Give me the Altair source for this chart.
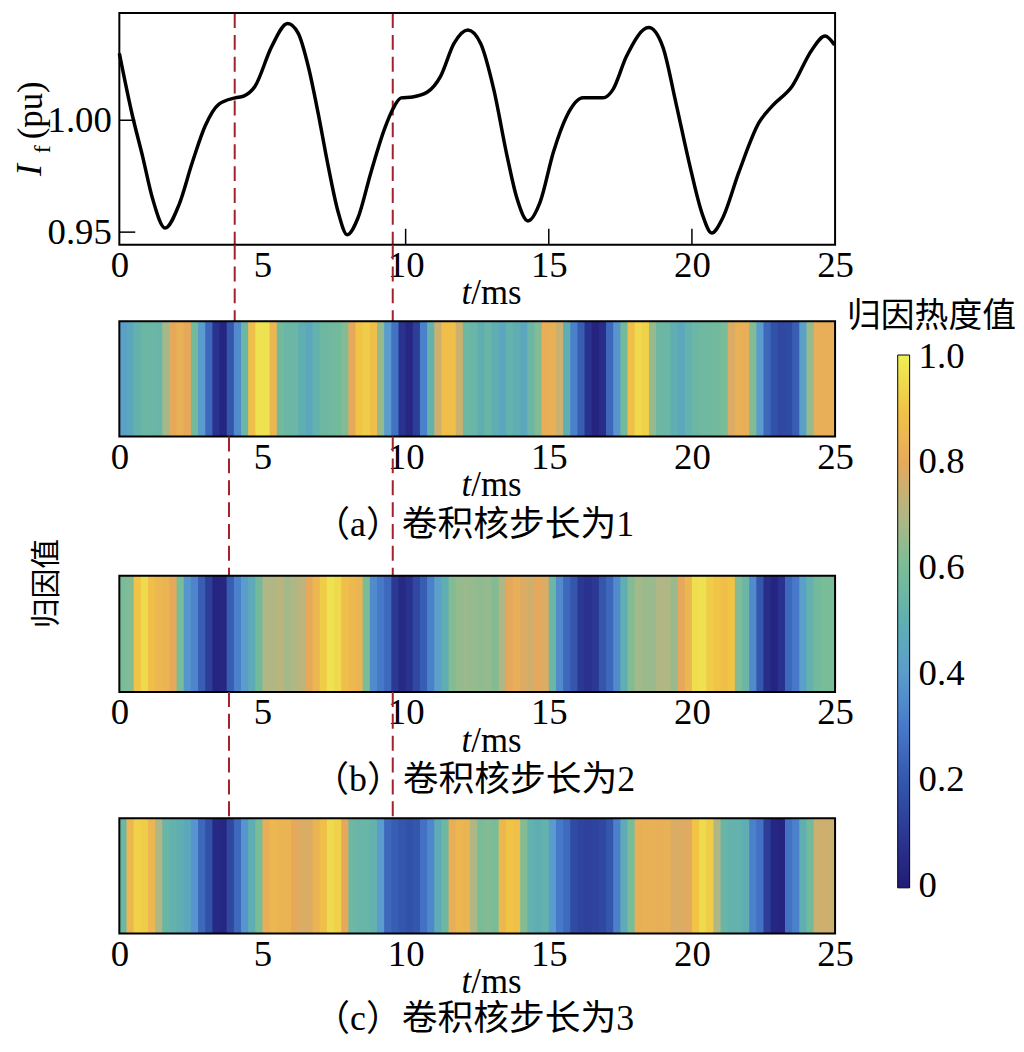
import altair as alt
import pandas as pd

# ---------------- data ----------------
T_LINE = [0.0, 0.46, 0.81, 1.16, 1.60, 2.08, 2.55, 3.00, 3.47, 4.05, 4.34, 4.74, 5.32, 5.88,
          6.25, 6.60, 6.94, 7.29, 7.64, 7.96, 8.33, 8.79, 9.26, 9.55, 9.84, 10.24, 10.76,
          11.22, 11.69, 12.17, 12.62, 13.08, 13.54, 13.89, 14.27, 14.70, 15.16, 15.63, 16.20,
          16.90, 17.24, 17.71, 18.49, 18.98, 19.44, 19.90, 20.37, 20.69, 21.07, 21.64, 22.34,
          22.80, 23.50, 24.19, 24.65, 24.98]
IF_LINE = [1.0299, 1.0019, 0.984, 0.965, 0.9518, 0.9621, 0.9812, 0.9975, 1.0071, 1.0100, 1.0108,
           1.0152, 1.0329, 1.0432, 1.0388, 1.024, 1.0034, 0.9798, 0.9591, 0.9488, 0.9562, 0.9768,
           0.996, 1.0049, 1.010, 1.0104, 1.0126, 1.0196, 1.0343, 1.0403, 1.0343, 1.0137, 0.9842,
           0.965, 0.955, 0.9635, 0.9857, 1.0019, 1.010, 1.010, 1.0137, 1.0285, 1.0414, 1.0329,
           1.0078, 0.9812, 0.9577, 0.9496, 0.9562, 0.9768, 0.9989, 1.0063, 1.0152, 1.0314,
           1.0376, 1.0336]

CELL = 0.25
HEAT_T = [i * CELL for i in range(100)]

HEAT_A = [0.42, 0.46, 0.52, 0.55, 0.55, 0.54, 0.68, 0.80, 0.83, 0.80, 0.58, 0.40,
          0.25, 0.08, 0.03, 0.20, 0.35, 0.55, 0.88, 0.97, 0.97, 0.85, 0.58, 0.55,
          0.55, 0.50, 0.46, 0.52, 0.56, 0.57, 0.58, 0.62, 0.80, 0.90, 0.92, 0.88,
          0.65, 0.40, 0.28, 0.08, 0.04, 0.12, 0.32, 0.52, 0.75, 0.88, 0.88, 0.75,
          0.56, 0.54, 0.50, 0.54, 0.50, 0.45, 0.52, 0.50, 0.46, 0.55, 0.62, 0.82,
          0.83, 0.75, 0.50, 0.32, 0.22, 0.08, 0.03, 0.06, 0.25, 0.38, 0.58, 0.88,
          0.95, 0.93, 0.65, 0.56, 0.55, 0.50, 0.46, 0.52, 0.55, 0.57, 0.57, 0.58,
          0.60, 0.78, 0.83, 0.82, 0.62, 0.40, 0.25, 0.18, 0.15, 0.16, 0.22, 0.42,
          0.65, 0.82, 0.82, 0.82]
HEAT_B = [0.60, 0.62, 0.90, 0.95, 0.88, 0.85, 0.84, 0.80, 0.60, 0.38, 0.33, 0.22,
          0.12, 0.03, 0.04, 0.22, 0.32, 0.40, 0.48, 0.58, 0.70, 0.70, 0.72, 0.68,
          0.70, 0.72, 0.80, 0.85, 0.92, 0.97, 0.95, 0.88, 0.86, 0.84, 0.60, 0.35,
          0.30, 0.25, 0.10, 0.05, 0.08, 0.15, 0.22, 0.32, 0.42, 0.50, 0.62, 0.65,
          0.66, 0.65, 0.64, 0.65, 0.62, 0.70, 0.80, 0.82, 0.78, 0.76, 0.80, 0.78,
          0.55, 0.35, 0.25, 0.20, 0.10, 0.08, 0.10, 0.20, 0.25, 0.35, 0.50, 0.62,
          0.68, 0.66, 0.66, 0.70, 0.70, 0.66, 0.80, 0.85, 0.96, 0.97, 0.92, 0.90,
          0.88, 0.90, 0.62, 0.55, 0.35, 0.20, 0.06, 0.03, 0.08, 0.25, 0.30, 0.42,
          0.52, 0.58, 0.60, 0.60]
HEAT_C = [0.55, 0.85, 0.93, 0.92, 0.85, 0.70, 0.54, 0.52, 0.50, 0.46, 0.38, 0.25,
          0.18, 0.05, 0.04, 0.15, 0.25, 0.38, 0.50, 0.60, 0.82, 0.85, 0.84, 0.84,
          0.80, 0.78, 0.78, 0.84, 0.88, 0.95, 0.93, 0.80, 0.56, 0.54, 0.54, 0.52,
          0.40, 0.25, 0.22, 0.20, 0.18, 0.20, 0.28, 0.34, 0.48, 0.56, 0.82, 0.85,
          0.84, 0.70, 0.60, 0.62, 0.60, 0.85, 0.90, 0.88, 0.62, 0.52, 0.50, 0.52,
          0.40, 0.30, 0.26, 0.16, 0.14, 0.13, 0.14, 0.15, 0.20, 0.32, 0.48, 0.60,
          0.82, 0.83, 0.83, 0.82, 0.83, 0.78, 0.78, 0.79, 0.90, 0.95, 0.92, 0.70,
          0.54, 0.52, 0.52, 0.50, 0.32, 0.28, 0.12, 0.04, 0.03, 0.28, 0.32, 0.50,
          0.58, 0.75, 0.76, 0.75]

X_TICKS = [0, 5, 10, 15, 20, 25]
Y_TICKS = [0.95, 1.00]
INNER_X_TICKS = [10, 15, 20]
RED_TOP = [4.03, 9.55]
RED_LOW = [3.83, 9.55]

# colour-bar stops (ends padded a hair so the end labels sit centred on the bar ends)
CB_STOPS = [-0.003, 0.1, 0.2, 0.3, 0.4, 0.5, 0.6, 0.7, 0.8, 0.9, 1.003]
CB_COLORS = ["#221b76", "#2b3894", "#3457ad", "#4779cb", "#5a9ccd", "#5fafb2",
             "#78bd98", "#b0b784", "#e6a95c", "#f1c446", "#edf054"]
CB_VALUES = [0, 0.2, 0.4, 0.6, 0.8, 1.0]

CAPTIONS = ["（a）卷积核步长为1", "（b）卷积核步长为2", "（c）卷积核步长为3"]

# ---------------- style ----------------
SERIF = "Liberation Serif"
CJK = "Noto Sans CJK SC"
MIX = SERIF + ", " + CJK
RED = "#a3202d"
W = 720
TOP_H = 233
PANELS = [(77, 193), (140, 257), (127, 243)]   # (gap above heatmap, total panel height)
CAP_OFF = [100, 100, 97]
FS = 37

x_scale = alt.Scale(domain=[0, 25], nice=False, zero=False)
x_axis = alt.Axis(values=X_TICKS, labelFont=SERIF, labelFontSize=FS, labelColor="black",
                  ticks=False, domain=False, grid=False, labelPadding=3, title=None,
                  labelFlush=False)
color_scale = alt.Scale(domain=CB_STOPS, range=CB_COLORS, interpolate="rgb")
legend = alt.Legend(title="归因热度值", titleFont=CJK, titleFontSize=34, titleFontWeight="normal",
                    titleColor="black", titleAnchor="middle", titlePadding=21,
                    labelFont=SERIF, labelFontSize=FS, labelColor="black", labelOffset=9,
                    type="gradient", values=CB_VALUES, labelOverlap=False,
                    labelExpr="datum.value == 0 ? '0' : format(datum.value, '.1f')",
                    gradientLength=536, gradientThickness=12, gradientStrokeColor="black",
                    gradientStrokeWidth=1, direction="vertical", orient="none",
                    legendX=732, legendY=289)

one = pd.DataFrame({"d": [0]})


def t_ms(base_y):
    t = alt.Chart(one).mark_text(text="t", font=SERIF, fontSize=35, fontStyle="italic",
                                 align="right", baseline="alphabetic", color="black").encode(
        x=alt.value(354), y=alt.value(base_y))
    ms = alt.Chart(one).mark_text(text="/ms", font=SERIF, fontSize=35, align="left",
                                  baseline="alphabetic", color="black").encode(
        x=alt.value(354), y=alt.value(base_y))
    return [t, ms]


# ---------------- top panel ----------------
df_line = pd.DataFrame({"t": T_LINE, "v": IF_LINE})
line = alt.Chart(df_line).mark_line(color="black", strokeWidth=3.5, interpolate="monotone").encode(
    x=alt.X("t:Q", scale=x_scale, axis=x_axis),
    y=alt.Y("v:Q", scale=alt.Scale(domain=[0.9444, 1.0479], nice=False, zero=False),
            axis=alt.Axis(values=Y_TICKS, format=".2f", labelFont=SERIF, labelFontSize=FS,
                          labelColor="black", ticks=False, domain=False, grid=False,
                          labelPadding=8, title=None)))
ytick = alt.Chart(pd.DataFrame({"v": Y_TICKS})).mark_rule(color="black", strokeWidth=1.5).encode(
    y="v:Q", x=alt.value(0), x2=alt.value(16))
xtick = alt.Chart(pd.DataFrame({"t": INNER_X_TICKS})).mark_rule(color="black", strokeWidth=1.5).encode(
    x="t:Q", y=alt.value(TOP_H - 16), y2=alt.value(TOP_H))
frame_top = alt.Chart(one).mark_rect(filled=False, stroke="black", strokeWidth=2).encode(
    x=alt.value(0), x2=alt.value(W), y=alt.value(0), y2=alt.value(TOP_H))
red_top = alt.Chart(pd.DataFrame({"t": RED_TOP})).mark_rule(
    color=RED, strokeWidth=2, strokeDash=[15, 7]).encode(
    x="t:Q", y=alt.value(0), y2=alt.value(TOP_H))
lab_I = alt.Chart(one).mark_text(text="I", font=SERIF, fontSize=36, fontStyle="italic", angle=270,
                                 align="left", baseline="alphabetic", color="black").encode(
    x=alt.value(-79), y=alt.value(164))
lab_f = alt.Chart(one).mark_text(text="f", font=SERIF, fontSize=24, angle=270,
                                 align="left", baseline="alphabetic", color="black").encode(
    x=alt.value(-70), y=alt.value(141))
lab_pu = alt.Chart(one).mark_text(text="(pu)", font=SERIF, fontSize=35, angle=270,
                                  align="left", baseline="alphabetic", color="black").encode(
    x=alt.value(-78), y=alt.value(127))

top = alt.layer(red_top, line, ytick, xtick, frame_top, lab_I, lab_f, lab_pu,
                *t_ms(TOP_H + 60)).properties(width=W, height=TOP_H)

# ---------------- heat panels ----------------
heat_panels = []
for idx, (vals, (gap, h)) in enumerate(zip([HEAT_A, HEAT_B, HEAT_C], PANELS)):
    df = pd.DataFrame({"t0": HEAT_T, "t1": [t + CELL + 0.03 for t in HEAT_T], "v": vals})
    rects = alt.Chart(df).mark_rect().encode(
        x=alt.X("t0:Q", scale=x_scale, axis=x_axis),
        x2="t1:Q",
        y=alt.value(gap), y2=alt.value(h),
        color=alt.Color("v:Q", scale=color_scale, legend=legend))
    frame = alt.Chart(one).mark_rect(filled=False, stroke="black", strokeWidth=2).encode(
        x=alt.value(0), x2=alt.value(W), y=alt.value(gap), y2=alt.value(h))
    red = alt.Chart(pd.DataFrame({"t": RED_TOP if idx == 0 else RED_LOW})).mark_rule(
        color=RED, strokeWidth=2, strokeDash=[15, 7]).encode(
        x="t:Q", y=alt.value(0), y2=alt.value(gap))
    cap = alt.Chart(one).mark_text(text=CAPTIONS[idx], font=MIX, fontSize=36, align="center",
                                   baseline="alphabetic", color="black").encode(
        x=alt.value(357), y=alt.value(h + CAP_OFF[idx]))
    layers = [red, rects, frame, cap] + t_ms(h + 60)
    if idx == 1:
        side = alt.Chart(one).mark_text(text="归因值", font=CJK, fontSize=30, angle=270,
                                        align="center", baseline="middle", color="black").encode(
            x=alt.value(-73), y=alt.value(148))
        layers.append(side)
    heat_panels.append(alt.layer(*layers).properties(width=W, height=h))

chart = alt.vconcat(top, *heat_panels, spacing=0, bounds="flush").properties(
    padding={"left": 3, "top": 0, "right": 0, "bottom": 0}, background="white"
).configure_view(stroke="transparent")

chart.save("out.html", embed_options={"renderer": "svg", "actions": False})
